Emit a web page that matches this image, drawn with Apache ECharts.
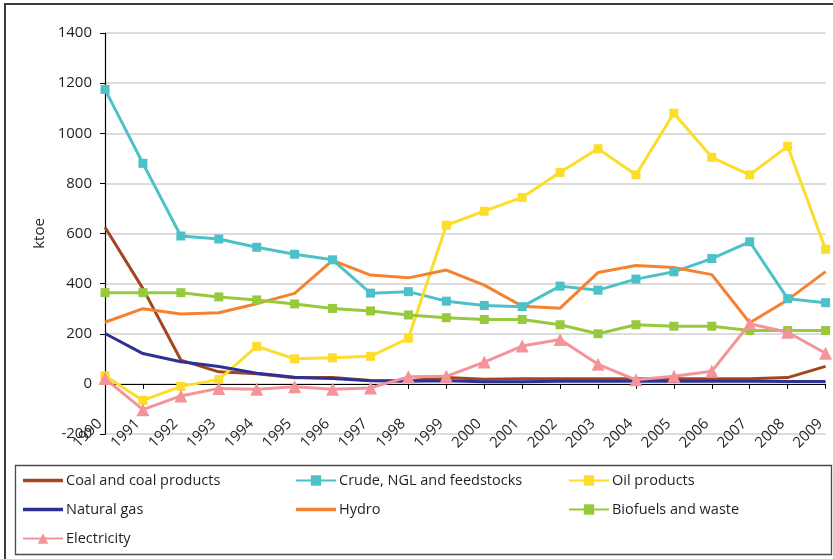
<!DOCTYPE html>
<html>
<head>
<meta charset="utf-8">
<style>
  html, body { margin: 0; padding: 0; background: #fff; }
  #chart { width: 833px; height: 559px; }
</style>
<script src="https://cdn.jsdelivr.net/npm/echarts@6/dist/echarts.min.js"></script>
</head>
<body>
<div id="chart"></div>
<script>
// Years on the category axis
const years = ['1990','1991','1992','1993','1994','1995','1996','1997','1998','1999',
               '2000','2001','2002','2003','2004','2005','2006','2007','2008','2009'];

// Values in ktoe per product
const coal        = [625, 380, 95, 48, 40, 24, 25, 13, 12, 25, 18, 20, 20, 20, 20, 20, 20, 20, 25, 70];
const crude       = [1175, 880, 590, 578, 545, 517, 495, 362, 368, 330, 313, 308, 390, 374, 418, 447, 500, 567, 340, 324];
const oil         = [32, -66, -10, 17, 150, 100, 104, 110, 182, 633, 689, 744, 844, 938, 834, 1080, 904, 834, 948, 537];
const naturalGas  = [201, 121, 88, 69, 42, 26, 21, 12, 10, 12, 8, 8, 10, 10, 10, 10, 10, 10, 9, 9];
const hydro       = [246, 300, 279, 284, 320, 361, 493, 434, 423, 454, 394, 310, 302, 444, 472, 464, 436, 244, 335, 448];
const biofuels    = [364, 364, 364, 347, 335, 319, 301, 291, 275, 264, 257, 257, 236, 200, 236, 230, 230, 213, 213, 213];
const electricity = [21, -103, -48, -18, -21, -11, -21, -16, 28, 30, 87, 151, 177, 78, 16, 30, 50, 240, 206, 122];

// Value axis ticks
const yMin = -200, yMax = 1400, yStep = 200;

const textFont = '"Open Sans", "Noto Sans", sans-serif';
const textColor = '#231f20';
const plainLineIcon = 'path://M0,0 H40 V3.5 H0 Z';

function lineSeries(name, data, color, symbol, symbolSize) {
  return {
    name: name,
    type: 'line',
    xAxisIndex: 0,
    data: data,
    color: color,
    symbol: symbol || 'none',
    symbolSize: symbolSize || 0,
    showSymbol: !!symbol,
    lineStyle: { width: 3, color: color },
    itemStyle: { color: color },
    emphasis: { disabled: true },
    animation: false
  };
}

const series = [
  lineSeries('Coal and coal products', coal, '#a3461f'),
  lineSeries('Crude, NGL and feedstocks', crude, '#4cc1c9', 'rect', 9),
  lineSeries('Oil products', oil, '#fddd2b', 'rect', 9),
  lineSeries('Natural gas', naturalGas, '#2e3192'),
  lineSeries('Hydro', hydro, '#f58230'),
  lineSeries('Biofuels and waste', biofuels, '#97c93d', 'rect', 9),
  lineSeries('Electricity', electricity, '#f4949a', 'triangle', 13)
];

const plainNames = ['Coal and coal products', 'Natural gas', 'Hydro'];

function legendColumn(left, names) {
  return {
    orient: 'vertical',
    left: left,
    top: 473,
    padding: 0,
    itemWidth: 40,
    itemHeight: 13,
    itemGap: 14,
    selectedMode: false,
    data: names.map(n => plainNames.includes(n) ? { name: n, icon: plainLineIcon } : { name: n }),
    textStyle: { fontFamily: textFont, fontSize: 14.5, color: textColor, padding: [0, 0, 0, -2] }
  };
}

const chart = echarts.init(document.getElementById('chart'), null, { renderer: 'canvas' });
chart.setOption({
  backgroundColor: '#fff',
  animation: false,
  grid: { left: 105, right: 2, top: 33, bottom: 125, containLabel: false },
  xAxis: [
    {
      // axis line and ticks along the zero line
      type: 'category',
      data: years,
      boundaryGap: false,
      axisLine: { onZero: true, lineStyle: { color: '#000', width: 1.2 } },
      axisTick: { show: true, alignWithLabel: true, length: 5, lineStyle: { color: '#000' } },
      axisLabel: { show: false },
      splitLine: { show: false }
    },
    {
      // year labels hanging below the zero line
      type: 'category',
      data: years,
      boundaryGap: false,
      position: 'bottom',
      offset: -50,
      axisLine: { show: false },
      axisTick: { show: false },
      axisLabel: {
        rotate: 45, interval: 0, margin: 32,
        formatter: v => v + '\u2002',
        fontFamily: textFont, fontSize: 15, color: textColor
      },
      splitLine: { show: false }
    }
  ],
  yAxis: {
    type: 'value',
    min: yMin, max: yMax, interval: yStep,
    name: 'ktoe',
    nameLocation: 'middle',
    nameGap: 56,
    nameRotate: 90,
    nameTextStyle: { fontFamily: textFont, fontSize: 15, color: textColor },
    axisLine: { show: true, lineStyle: { color: '#000', width: 1.2 } },
    axisTick: { show: true, length: 5, lineStyle: { color: '#000' } },
    axisLabel: {
      margin: 13, fontFamily: textFont, fontSize: 15, color: textColor,
      formatter: v => String(v)
    },
    splitLine: { show: true, lineStyle: { color: '#d0d0d0', width: 1.5 } }
  },
  legend: [
    legendColumn(22, ['Coal and coal products', 'Natural gas', 'Electricity']),
    legendColumn(295, ['Crude, NGL and feedstocks', 'Hydro']),
    legendColumn(568, ['Oil products', 'Biofuels and waste'])
  ],
  graphic: [
    {
      type: 'rect', silent: true, z: 100,
      shape: { x: 5, y: 4, width: 860, height: 600 },
      style: { fill: 'none', stroke: '#3b3b3b', lineWidth: 2 }
    },
    {
      type: 'rect', silent: true, z: 100,
      shape: { x: 15.5, y: 465.5, width: 816, height: 89 },
      style: { fill: 'none', stroke: '#4a4a4a', lineWidth: 1.3 }
    }
  ],
  series: series
});
</script>
</body>
</html>
